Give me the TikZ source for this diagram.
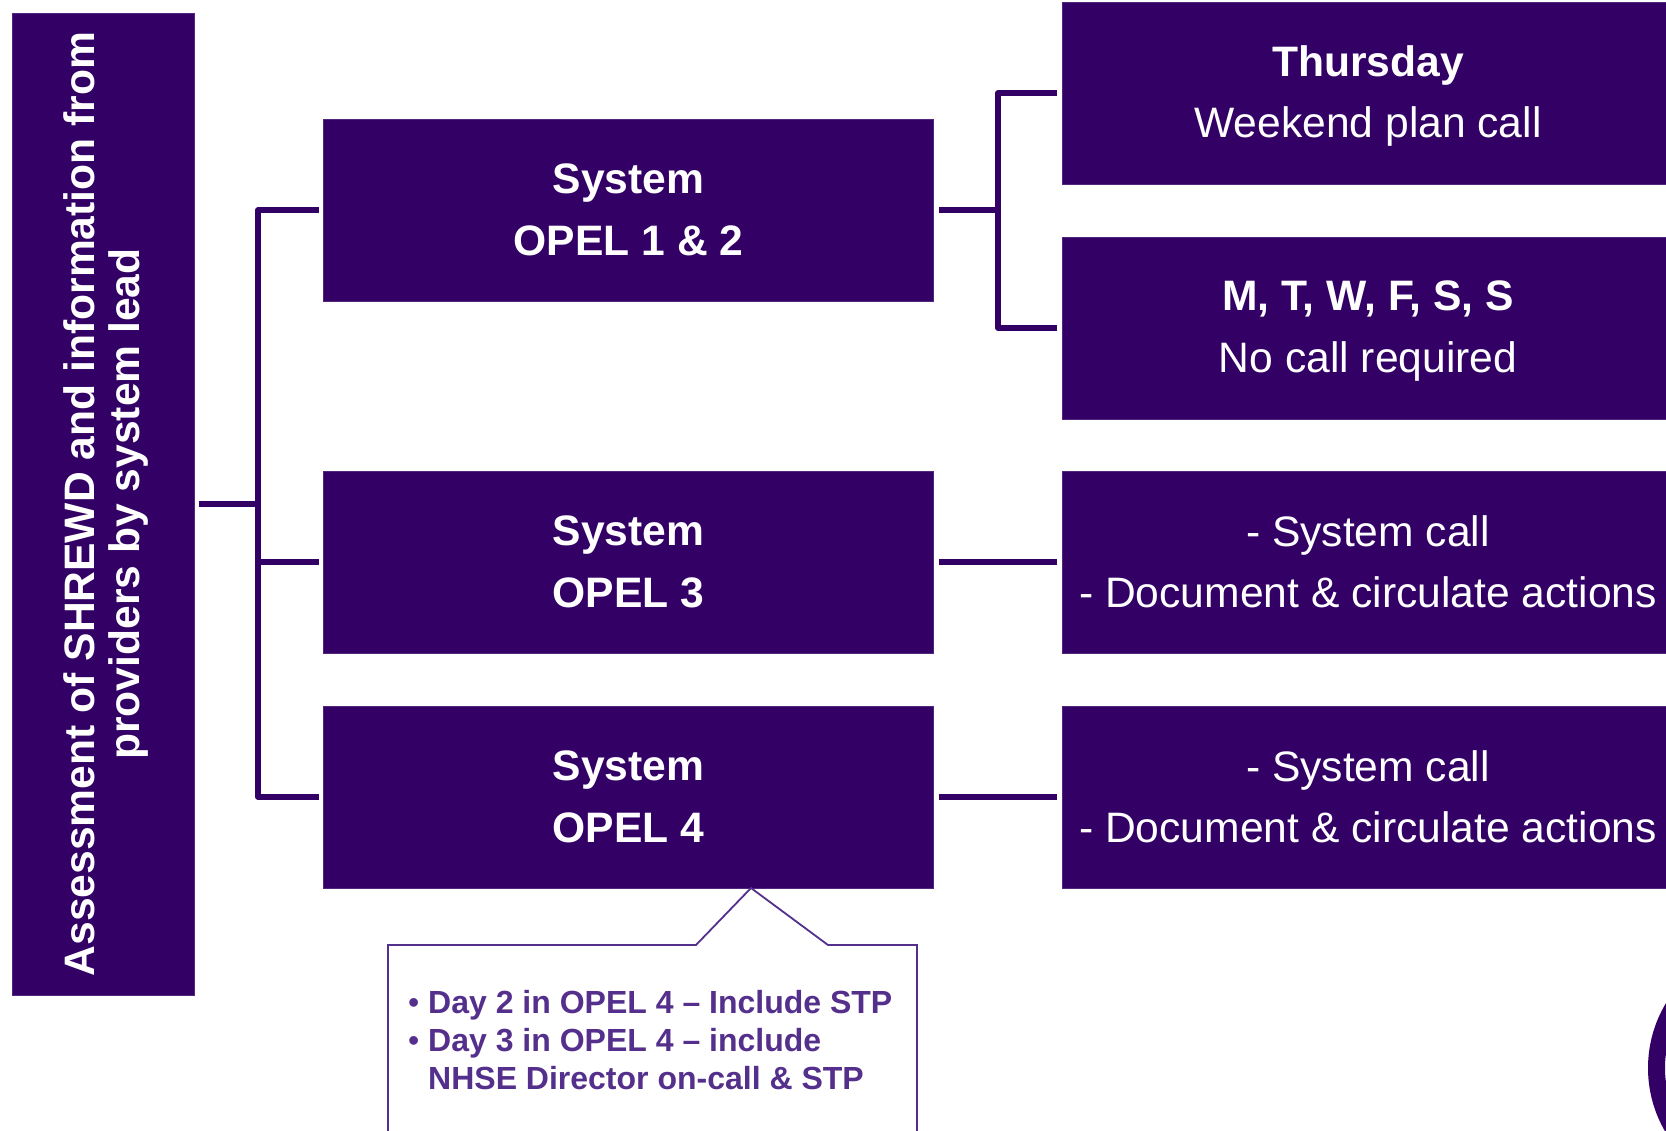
\documentclass[tikz,border=0pt]{standalone}
\usepackage{fontspec}
\setmainfont{Liberation Sans}
\definecolor{navyp}{RGB}{51,0,102}
\definecolor{callp}{RGB}{84,48,140}
\newcommand{\nodesc}[1]{\raisebox{0pt}[\height][3pt]{#1}}
\tikzset{
 x=1pt,y=-1pt,
 box/.style={fill=navyp,draw=navyp!85!white,line width=0.6pt,text=white,inner sep=0pt,outer sep=5pt,align=center,font=\fontsize{42.6}{61.5}\selectfont},
 midbox/.style={box,minimum width=610pt,minimum height=182pt},
 endbox/.style={box,minimum width=612pt,minimum height=182pt},
 sidebox/.style={box,minimum width=982pt,minimum height=182pt,rotate=90,font=\bfseries\fontsize{42.6}{45}\selectfont},
 link/.style={draw=navyp,line width=5.2pt,line join=round},
 calloutedge/.style={draw=callp,line width=1.8pt,fill=white},
 calltext/.style={text=callp,inner sep=0pt,align=left,anchor=north west,font=\bfseries\fontsize{32}{38.3}\selectfont}
}
\begin{document}
\begin{tikzpicture}
\clip (0,0) rectangle (1666,1131);
\fill[white] (0,0) rectangle (1666,1131);
\node[sidebox] (side) at (103,504) {\rule{0pt}{36pt}Assessment of SHREWD and information from\\providers by system lead};
\node[midbox] (o1) at (628.5,210) {\textbf{System}\\\textbf{OPEL 1 \& 2}};
\node[midbox] (o3) at (628.5,562) {\textbf{System}\\\textbf{OPEL 3}};
\node[midbox] (o4) at (628.5,797) {\textbf{System}\\\textbf{OPEL 4}};
\node[endbox] (thu) at (1368,93) {\textbf{Thursday}\\\nodesc{Weekend plan call}};
\node[endbox] (mtw) at (1368,328) {\textbf{M, T, W, F, S, S}\\\nodesc{No call required}};
\node[endbox] (a3) at (1368,562) {- System call\\- Document \& circulate actions};
\node[endbox] (a4) at (1368,797) {- System call\\- Document \& circulate actions};
% connectors
\coordinate (jl) at (258,503);
\coordinate (jr) at (998,210);
\draw[link] (side.south) -- (side.south -| jl);
\draw[link] (o1.west) -| (jl) |- (o4.west);
\draw[link] (jl |- o3.west) -- (o3.west);
\draw[link] (o1.east) -- (jr);
\draw[link] (thu.west) -| (jr) |- (mtw.west);
\draw[link] (o3.east) -- (a3.west);
\draw[link] (o4.east) -- (a4.west);
% callout
\coordinate (tip) at (751,888);
\draw[calloutedge] (388,1145) -- (388,945) -- (696,945) -- (tip) -- (828,945) -- (917,945) -- (917,1145);
\node[calltext] (ct) at (408,990) {\makebox[20pt][l]{\mdseries •}Day 2 in OPEL 4 – Include STP\\\makebox[20pt][l]{\mdseries •}Day 3 in OPEL 4 – include\\\makebox[20pt][l]{}NHSE Director on-call \& STP};
% logo ring
\fill[navyp,even odd rule] (1774,1068) circle (126) (1774,1068) circle (109);
\end{tikzpicture}
\end{document}
